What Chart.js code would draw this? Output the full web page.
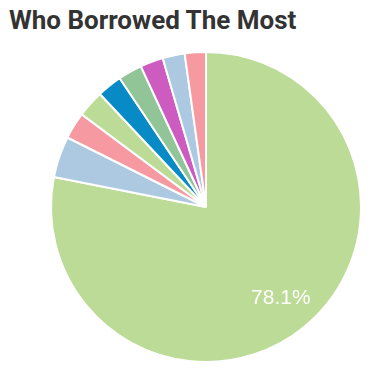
<!DOCTYPE html>
<html>
<head>
<meta charset="utf-8">
<script src="https://cdn.jsdelivr.net/npm/chart.js@4"></script>
<style>
  html, body { margin: 0; padding: 0; background: #fff; }
  #titulo {
    position: absolute; left: 9px; top: 5px; margin: 0;
    font-family: Roboto, sans-serif; font-weight: bold; font-size: 26px; color: #333;
  }
  #grafico { position: absolute; left: 0; top: 0; }
</style>
</head>
<body>
<h2 id="titulo">Who Borrowed The Most</h2>
<canvas id="grafico" width="372" height="369"></canvas>
<script>
// dados do grafico
var nomes = ['A', 'B', 'C', 'D', 'E', 'F', 'G', 'H', 'I']
var valores = [78.1, 4.3, 2.8, 2.8, 2.6, 2.5, 2.4, 2.3, 2.2]
var cores = ['#bcdb96', '#adc9e1', '#f799a0', '#bcdb96', '#078ac6', '#91c597', '#ce5cc0', '#adc9e1', '#f799a0']

// escreve o percentual so na fatia grande
var rotulo = {
  id: 'rotulo',
  afterDatasetsDraw: function(chart){
    var ctx = chart.ctx
    var arco = chart.getDatasetMeta(0).data[0]
    var meio = (arco.startAngle + arco.endAngle) / 2
    var r = arco.outerRadius * 0.76
    ctx.save()
    ctx.fillStyle = '#fff'
    ctx.font = '21px "Liberation Sans", Arial, sans-serif'
    ctx.textAlign = 'center'
    ctx.textBaseline = 'middle'
    ctx.fillText(valores[0].toFixed(1) + '%', arco.x + Math.cos(meio) * r, arco.y + Math.sin(meio) * r)
    ctx.restore()
  }
}

new Chart(document.getElementById('grafico').getContext('2d'), {
  type: 'pie',
  data: {
    labels: nomes,
    datasets: [{ data: valores, backgroundColor: cores, borderColor: '#fff', borderWidth: 2 }]
  },
  options: {
    responsive: false,
    animation: false,
    layout: { padding: { left: 49, right: 9, top: 51, bottom: 6 } },
    plugins: { legend: { display: false }, tooltip: { enabled: false } }
  },
  plugins: [rotulo]
})
</script>
</body>
</html>
